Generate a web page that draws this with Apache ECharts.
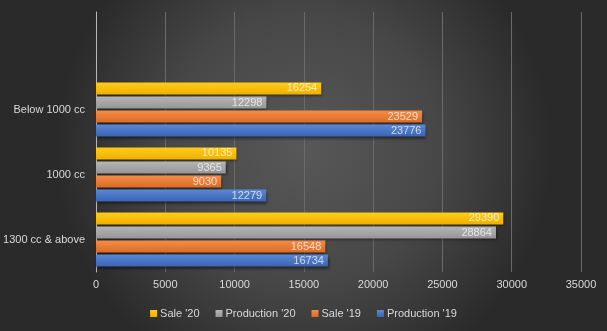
<!DOCTYPE html>
<html>
<head>
<meta charset="utf-8">
<style>
  html, body { margin: 0; padding: 0; background: #3a3a3a; }
  #chart { width: 607px; height: 331px; }
</style>
<script src="https://cdn.jsdelivr.net/npm/echarts@6/dist/echarts.min.js"></script>
</head>
<body>
<div id="chart"></div>
<script>
// Engine-size segments, listed bottom to top as they sit on the axis
const categories = ['1300 cc & above', '1000 cc', 'Below 1000 cc'];

// Units per segment
const production19 = [16734, 12279, 23776];
const sale19 = [16548, 9030, 23529];
const production20 = [28864, 9365, 12298];
const sale20 = [29390, 10135, 16254];

const valueTicks = [0, 5000, 10000, 15000, 20000, 25000, 30000, 35000];

const FONT = '"Liberation Sans", Arial, sans-serif';

function barGradient(top, bottom) {
  return new echarts.graphic.LinearGradient(0, 0, 0, 1, [
    { offset: 0, color: top },
    { offset: 1, color: bottom }
  ]);
}

function makeSeries(name, data, top, bottom) {
  return {
    name: name,
    type: 'bar',
    data: data,
    barWidth: 12,
    barGap: '17%',
    itemStyle: {
      color: barGradient(top, bottom),
      shadowColor: 'rgba(0,0,0,0.55)',
      shadowBlur: 3,
      shadowOffsetY: 2,
      shadowOffsetX: 1
    },
    label: {
      show: true,
      position: 'insideRight',
      distance: 4,
      color: 'rgba(255,255,255,0.72)',
      fontFamily: FONT,
      fontSize: 11,
      formatter: function (p) { return String(p.value); }
    }
  };
}

const chart = echarts.init(document.getElementById('chart'), null, { renderer: 'canvas' });

chart.setOption({
  animation: false,
  backgroundColor: new echarts.graphic.RadialGradient(0.5, 0.45, 0.75, [
    { offset: 0, color: '#585858' },
    { offset: 0.55, color: '#474747' },
    { offset: 1, color: '#2a2a2a' }
  ]),
  grid: { left: 96, right: 26, top: 12, bottom: 59, containLabel: false },
  legend: {
    data: ["Sale '20", "Production '20", "Sale '19", "Production '19"],
    bottom: 7,
    left: 'center',
    itemWidth: 7,
    itemHeight: 7,
    itemGap: 16,
    icon: 'rect',
    textStyle: { color: '#d9d9d9', fontFamily: FONT, fontSize: 11, padding: [0, 0, 0, -2] }
  },
  xAxis: {
    type: 'value',
    min: valueTicks[0],
    max: valueTicks[valueTicks.length - 1],
    interval: valueTicks[1] - valueTicks[0],
    axisLine: { show: false },
    axisTick: { show: false },
    axisLabel: {
      color: '#d9d9d9', fontFamily: FONT, fontSize: 11, margin: 7,
      formatter: function (v) { return String(v); }
    },
    splitLine: { lineStyle: { color: '#6a6a6a', width: 1 } }
  },
  yAxis: {
    type: 'category',
    data: categories.concat(['']),
    axisLine: { show: true, lineStyle: { color: '#b8b8b8', width: 1 } },
    axisTick: { show: false },
    axisLabel: { color: '#d9d9d9', fontFamily: FONT, fontSize: 11, margin: 11 },
    splitLine: { show: false }
  },
  // Series listed top-to-bottom within each band
  series: [
    makeSeries("Sale '20", sale20, '#ffcc1a', '#efb000'),
    makeSeries("Production '20", production20, '#b5b5b5', '#969696'),
    makeSeries("Sale '19", sale19, '#f38c48', '#dc6c22'),
    makeSeries("Production '19", production19, '#5a88d6', '#3a64b4')
  ]
});
</script>
</body>
</html>
